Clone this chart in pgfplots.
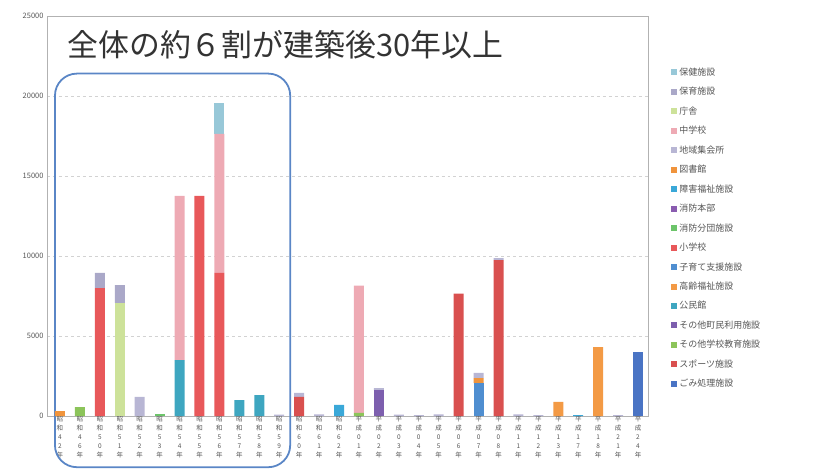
\documentclass[border=0pt]{standalone}
\usepackage{fontspec}
\setmainfont{Noto Sans CJK JP}
\usepackage{pgfplots}
\usepackage{pgfplotstable}
\pgfplotsset{compat=1.18}

\definecolor{c1}{HTML}{4A74C4}
\definecolor{c2}{HTML}{D9504F}
\definecolor{c3}{HTML}{8CC45A}
\definecolor{c4}{HTML}{7D5FAE}
\definecolor{c5}{HTML}{3EA6C0}
\definecolor{c6}{HTML}{F39A45}
\definecolor{c7}{HTML}{4F8ED0}
\definecolor{c8}{HTML}{E8585A}
\definecolor{c9}{HTML}{6CC46A}
\definecolor{c10}{HTML}{8A5CB0}
\definecolor{c11}{HTML}{3AA8D8}
\definecolor{c12}{HTML}{F0943C}
\definecolor{c13}{HTML}{B8B6D4}
\definecolor{c14}{HTML}{EEAAB4}
\definecolor{c15}{HTML}{CDE29A}
\definecolor{c16}{HTML}{AAA8C8}
\definecolor{c17}{HTML}{98C8D8}
\definecolor{boxblue}{HTML}{5A86C6}
\definecolor{txt}{HTML}{555555}

% x s1..s17 (s1 = bottom of stack)
\pgfplotstableread{
x  s1   s2   s3  s4   s5   s6   s7   s8    s9  s10 s11 s12 s13  s14   s15  s16  s17
0  0    0    0   0    0    0    0    0     0   0   0   300 0    0     0    0    0
1  0    0    550 0    0    0    0    0     0   0   0   0   0    0     0    0    0
2  0    0    0   0    0    0    0    8000  0   0   0   0   0    0     0    940  0
3  0    0    0   0    0    0    0    0     0   0   0   0   0    0     7050 1130 0
4  0    0    0   0    0    0    0    0     0   0   0   0   1200 0     0    0    0
5  0    0    0   0    0    0    0    0     100 0   0   0   0    0     0    0    0
6  0    0    0   0    3500 0    0    0     0   0   0   0   0    10250 0    0    0
7  0    0    0   0    0    0    0    13750 0   0   0   0   0    0     0    0    0
8  0    0    0   0    0    0    0    8940  0   0   0   0   0    8690  0    0    1940
9  0    0    0   0    1000 0    0    0     0   0   0   0   0    0     0    0    0
10 0    0    0   0    1300 0    0    0     0   0   0   0   0    0     0    0    0
11 0    0    0   0    0    0    0    0     0   0   0   0   80   0     0    0    0
12 0    1200 0   0    0    0    0    0     0   0   0   0   250  0     0    0    0
13 0    0    0   0    0    0    0    0     0   0   0   0   100  0     0    0    0
14 0    0    0   0    0    0    0    0     0   0   700 0   0    0     0    0    0
15 0    0    200 0    0    0    0    0     0   0   0   0   0    7950  0    0    0
16 0    0    0   1600 0    0    0    0     0   0   0   0   150  0     0    0    0
17 0    0    0   0    0    0    0    0     0   0   0   0   80   0     0    0    0
18 0    0    0   0    0    0    0    0     0   0   0   0   50   0     0    0    0
19 0    0    0   0    0    0    0    0     0   0   0   0   100  0     0    0    0
20 0    7650 0   0    0    0    0    0     0   0   0   0   0    0     0    0    0
21 0    0    0   0    0    0    2050 0     0   0   0   320 320  0     0    0    0
22 0    9750 0   0    0    0    0    0     0   0   0   0   120  0     0    0    0
23 0    0    0   0    0    0    0    0     0   0   0   0   100  0     0    0    0
24 0    0    0   0    0    0    0    0     0   0   0   0   50   0     0    0    0
25 0    0    0   0    0    880  0    0     0   0   0   0   0    0     0    0    0
26 0    0    0   0    0    0    0    0     0   0   50  0   0    0     0    0    0
27 0    0    0   0    0    4300 0    0     0   0   0   0   0    0     0    0    0
28 0    0    0   0    0    0    0    0     0   0   0   0   60   0     0    0    0
29 4000 0    0   0    0    0    0    0     0   0   0   0   0    0     0    0    0
}\facilities

\newcommand{\sw}[2]{昭\\和\\#1\\#2\\年}
\newcommand{\hs}[2]{平\\成\\#1\\#2\\年}

\begin{document}
\begin{tikzpicture}
\useasboundingbox (-47bp,-56bp) rectangle (772bp,416bp);
\begin{axis}[
  scale only axis,
  width=601bp, height=400bp,
  ybar stacked, bar width=10bp,
  xmin=-0.65, xmax=29.5,
  ymin=0, ymax=25000,
  ytick={0,5000,10000,15000,20000,25000},
  scaled y ticks=false,
  xtick={0,...,29},
  xticklabels={{\sw42},{\sw46},{\sw50},{\sw51},{\sw52},{\sw53},{\sw54},{\sw55},{\sw56},{\sw57},{\sw58},{\sw59},
    {\sw60},{\sw61},{\sw62},{\hs01},{\hs02},{\hs03},{\hs04},{\hs05},{\hs06},{\hs07},{\hs08},
    {\hs11},{\hs12},{\hs13},{\hs17},{\hs18},{\hs21},{\hs24}},
  xticklabel style={font=\fontsize{6.5}{9}\selectfont, align=center, text=txt, inner sep=0.5pt},
  yticklabel style={font=\fontsize{7.5}{9}\selectfont, text=txt},
  /pgf/number format/assume math mode=true,
  /pgf/number format/1000 sep={},
  major tick length=0pt,
  ymajorgrids, grid style={gray!35, dashed},
  axis line style={gray!60},
  clip=false,
  reverse legend,
  legend style={at={(1.033,0.876)}, anchor=north west, draw=none, fill=none,
    font=\fontsize{9}{10}\selectfont, text=txt, row sep=9.55pt,
    nodes={inner sep=0pt, text height=7.5pt, text depth=2.5pt, anchor=west}},
  legend cell align=left,
  legend image code/.code={\fill[#1] (0pt,-2.5pt) rectangle (6pt,3.5pt); \path (8.5pt,0pt);},
  every axis plot/.append style={draw=none},
]
\addplot[fill=c1]  table[x=x,y=s1]  {\facilities}; \addlegendentry{ごみ処理施設}
\addplot[fill=c2]  table[x=x,y=s2]  {\facilities}; \addlegendentry{スポーツ施設}
\addplot[fill=c3]  table[x=x,y=s3]  {\facilities}; \addlegendentry{その他学校教育施設}
\addplot[fill=c4]  table[x=x,y=s4]  {\facilities}; \addlegendentry{その他町民利用施設}
\addplot[fill=c5]  table[x=x,y=s5]  {\facilities}; \addlegendentry{公民館}
\addplot[fill=c6]  table[x=x,y=s6]  {\facilities}; \addlegendentry{高齢福祉施設}
\addplot[fill=c7]  table[x=x,y=s7]  {\facilities}; \addlegendentry{子育て支援施設}
\addplot[fill=c8]  table[x=x,y=s8]  {\facilities}; \addlegendentry{小学校}
\addplot[fill=c9]  table[x=x,y=s9]  {\facilities}; \addlegendentry{消防分団施設}
\addplot[fill=c10] table[x=x,y=s10] {\facilities}; \addlegendentry{消防本部}
\addplot[fill=c11] table[x=x,y=s11] {\facilities}; \addlegendentry{障害福祉施設}
\addplot[fill=c12] table[x=x,y=s12] {\facilities}; \addlegendentry{図書館}
\addplot[fill=c13] table[x=x,y=s13] {\facilities}; \addlegendentry{地域集会所}
\addplot[fill=c14] table[x=x,y=s14] {\facilities}; \addlegendentry{中学校}
\addplot[fill=c15] table[x=x,y=s15] {\facilities}; \addlegendentry{庁舎}
\addplot[fill=c16] table[x=x,y=s16] {\facilities}; \addlegendentry{保育施設}
\addplot[fill=c17] table[x=x,y=s17] {\facilities}; \addlegendentry{保健施設}

\node[anchor=west, font=\fontsize{31}{33}\selectfont, text=black!80] at (rel axis cs:0.028,0.9275) {全体の約６割が建築後30年以上};
\draw[boxblue, line width=1.8pt, rounded corners=22pt]
  (axis cs:-0.25,21400) rectangle (axis cs:11.55,-3200);
\end{axis}
\end{tikzpicture}
\end{document}
